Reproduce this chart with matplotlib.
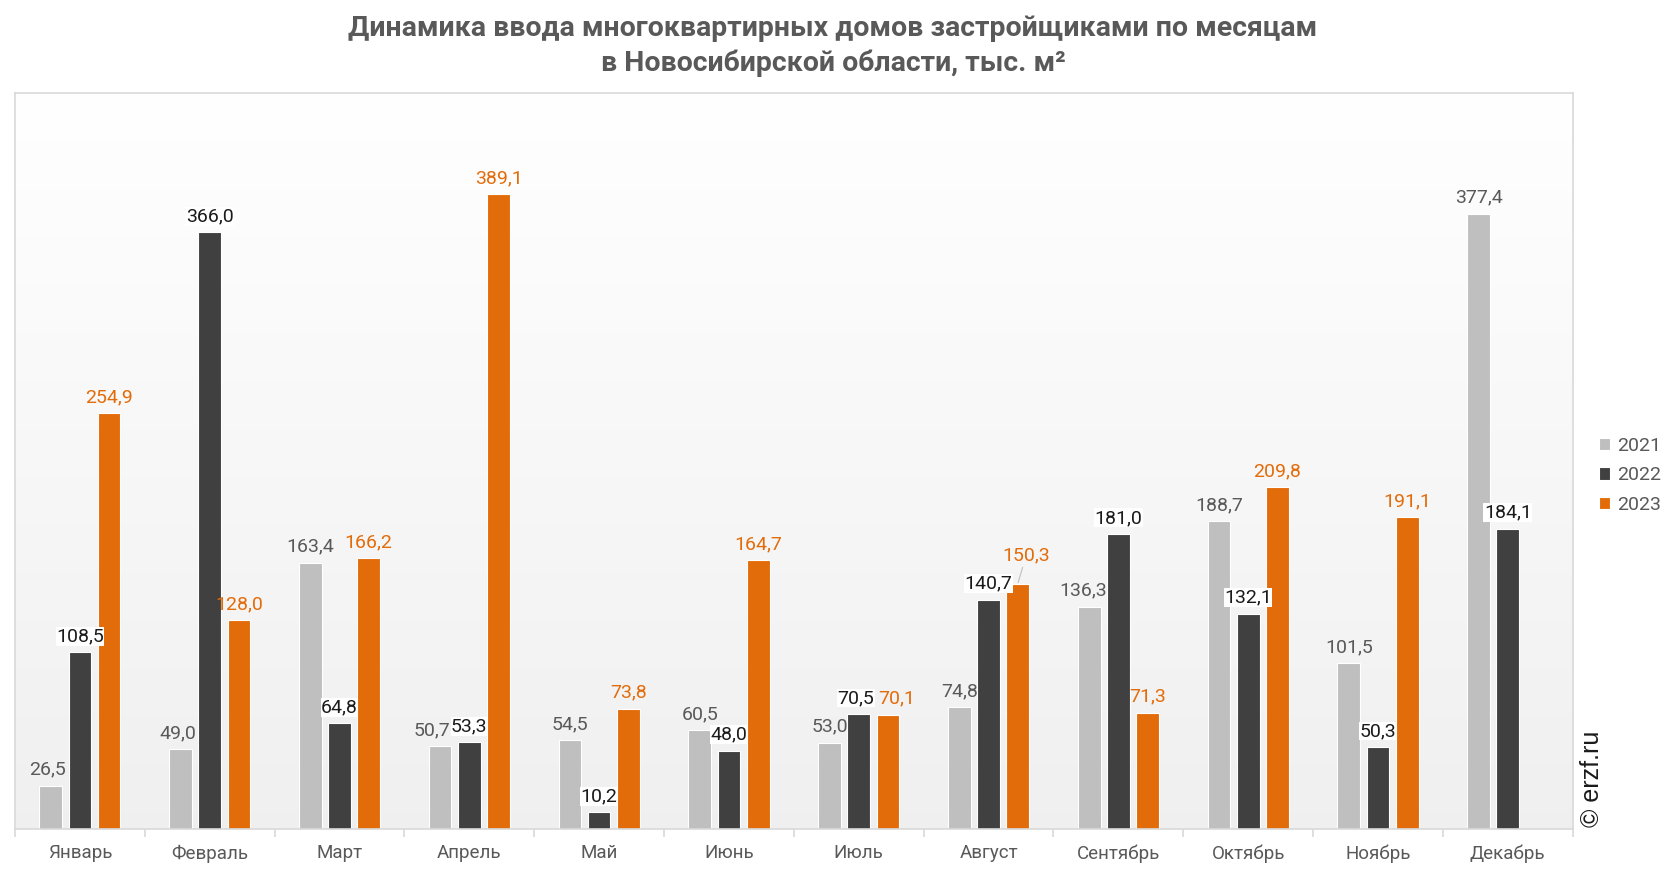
import matplotlib.pyplot as plt
import numpy as np

plt.rcParams['font.family'] = ['Roboto', 'DejaVu Sans']

months = ["Январь", "Февраль", "Март", "Апрель", "Май", "Июнь",
          "Июль", "Август", "Сентябрь", "Октябрь", "Ноябрь", "Декабрь"]
years = ["2021", "2022", "2023"]
v2021 = [26.5, 49.0, 163.4, 50.7, 54.5, 60.5, 53.0, 74.8, 136.3, 188.7, 101.5, 377.4]
v2022 = [108.5, 366.0, 64.8, 53.3, 10.2, 48.0, 70.5, 140.7, 181.0, 132.1, 50.3, 184.1]
v2023 = [254.9, 128.0, 166.2, 389.1, 73.8, 164.7, 70.1, 150.3, 71.3, 209.8, 191.1, None]

bar_colors = ["#bfbfbf", "#404040", "#e36c0a"]
label_colors = ["#595959", "#1a1a1a", "#e36c0a"]

# small nudges for crowded labels: (series, month) -> (dx, dy) in points
nudges = {(0, 0): (-2, 0), (0, 1): (-2, 0), (0, 3): (-6, 0), (1, 3): (0, 0),
          (1, 6): (-2, 0), (2, 6): (6, 0), (2, 7): (6, 9), (0, 8): (-4, 0)}

fig = plt.figure(figsize=(16.66, 8.72), dpi=100)
ax = fig.add_axes([0.009, 0.0493, 0.935, 0.8435])

# background gradient (white at top -> light grey at bottom)
g = np.linspace(1.0, 0.94, 256).reshape(-1, 1)
img = np.dstack([g, g, g])
ax.imshow(img, extent=[-0.5, 11.5, 0, 451], aspect='auto', zorder=0, origin='upper')

x = np.arange(len(months))
offsets = [-0.225, 0.0, 0.225]
width = 0.175
series = [v2021, v2022, v2023]

for i, (vals, off) in enumerate(zip(series, offsets)):
    for j, v in enumerate(vals):
        if v is None:
            continue
        ax.bar(x[j] + off, v, width=width, color=bar_colors[i],
               edgecolor="white", linewidth=0.8, zorder=2,
               label=years[i] if j == 0 else None)
        txt = f"{v:.1f}".replace(".", ",")
        kw = {}
        z = 4
        if i == 1:
            kw['bbox'] = dict(facecolor='white', edgecolor='none', pad=0.3)
            z = 3
        dx, dy = nudges.get((i, j), (0, 0))
        if dy > 0:
            kw['arrowprops'] = dict(arrowstyle='-', color='#bfbfbf', lw=0.8,
                                    shrinkA=0, shrinkB=1)
        ax.annotate(txt, (x[j] + off, v), xytext=(dx, 5 + dy), textcoords='offset points',
                    ha='center', va='bottom', fontsize=14, color=label_colors[i],
                    zorder=z, **kw)

ax.set_xlim(-0.5, 11.5)
ax.set_ylim(0, 451)
ax.set_yticks([])
ax.set_xticks(x)
ax.set_xticklabels(months, fontsize=13.5, color="#595959")
ax.tick_params(axis='x', length=0, pad=11)
ax.set_xticks(np.arange(-0.5, 12.0, 1.0), minor=True)
ax.tick_params(axis='x', which='minor', length=6, color="#d9d9d9", width=1.2)
for s in ax.spines.values():
    s.set_color("#d9d9d9")
    s.set_linewidth(1.2)

fig.text(0.5, 0.967, "Динамика ввода многоквартирных домов застройщиками по месяцам",
         ha='center', va='center', fontsize=20.5, fontweight='bold', color="#595959")
fig.text(0.5, 0.927, "в Новосибирской области, тыс. м²",
         ha='center', va='center', fontsize=20.5, fontweight='bold', color="#595959")

fig.legend(loc='center left', bbox_to_anchor=(0.949, 0.455), frameon=False,
           fontsize=14, handlelength=0.6, handleheight=0.6, handletextpad=0.35,
           labelspacing=0.6, labelcolor="#595959")

fig.text(0.9555, 0.052, "© erzf.ru", rotation=90, ha='center', va='bottom',
         fontsize=18, color="#1a1a1a", family=['Liberation Sans', 'DejaVu Sans'])

fig.savefig("out.png", dpi=100)
